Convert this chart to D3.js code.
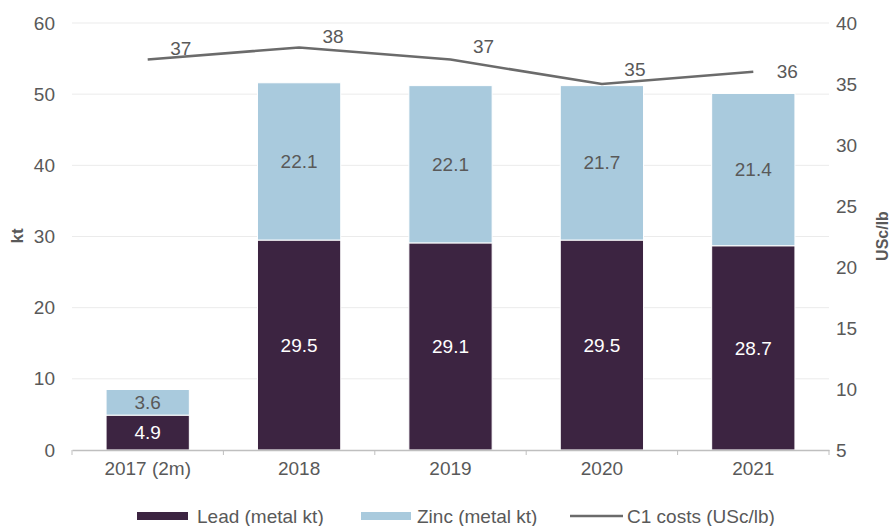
<!DOCTYPE html>
<html><head><meta charset="utf-8">
<script src="https://cdn.jsdelivr.net/npm/d3@7"></script>
<style>body{margin:0;background:#fff;}svg{display:block;font-family:"Liberation Sans",Arial,sans-serif;}</style>
</head><body>
<svg id="c" width="893" height="526"></svg>
<script>
const categories = ["2017 (2m)", "2018", "2019", "2020", "2021"];
const lead = [4.9, 29.5, 29.1, 29.5, 28.7];
const zinc = [3.6, 22.1, 22.1, 21.7, 21.4];
const c1 = [37, 38, 37, 35, 36];
const leftTicks = [0, 10, 20, 30, 40, 50, 60];
const rightTicks = [5, 10, 15, 20, 25, 30, 35, 40];

const FS = 19;
const svg = d3.select("#c");
const L = 72, R = 829, T = 23, B = 450;
const x = d3.scaleBand().domain(categories).range([L, R]).paddingInner(0.45).paddingOuter(0.225);
const y = d3.scaleLinear().domain([0, 60]).range([B, T]);
const y2 = d3.scaleLinear().domain([5, 40]).range([B, T]);
const txt = "#595959";
const FF = "Liberation Sans, Arial, sans-serif";

// gridlines
svg.append("g").selectAll("line").data(leftTicks.filter(d => d > 0)).join("line")
  .attr("x1", L).attr("x2", R).attr("y1", d => y(d)).attr("y2", d => y(d))
  .attr("stroke", "#ebebeb").attr("stroke-width", 1);

// left axis
const ga = svg.append("g").attr("transform", `translate(${L},0)`)
  .call(d3.axisLeft(y).tickValues(leftTicks).tickSize(0).tickPadding(17));
ga.select(".domain").remove();
ga.selectAll("text").attr("font-size", FS).attr("fill", txt).attr("font-family", FF);

// right axis
const gr = svg.append("g").attr("transform", `translate(${R},0)`)
  .call(d3.axisRight(y2).tickValues(rightTicks).tickSize(0).tickPadding(7));
gr.select(".domain").remove();
gr.selectAll("text").attr("font-size", FS).attr("fill", txt).attr("font-family", FF);

// bars
const step = x.step();
const bw = x.bandwidth();
const g = svg.append("g");
g.selectAll("rect.lead").data(categories).join("rect")
  .attr("x", d => x(d)).attr("width", bw)
  .attr("y", (d, i) => y(lead[i])).attr("height", (d, i) => y(0) - y(lead[i]))
  .attr("fill", "#3c2441").attr("stroke", "#fff").attr("stroke-width", 1);
g.selectAll("rect.zinc").data(categories).join("rect")
  .attr("x", d => x(d)).attr("width", bw)
  .attr("y", (d, i) => y(lead[i] + zinc[i])).attr("height", (d, i) => y(lead[i]) - y(lead[i] + zinc[i]))
  .attr("fill", "#a9cadd").attr("stroke", "#fff").attr("stroke-width", 1);

// x axis baseline + ticks
const gx = svg.append("g").attr("transform", `translate(0,${B})`)
  .call(d3.axisBottom(x).tickSize(0).tickPadding(12));
gx.select(".domain").attr("stroke", "#bfbfbf").attr("stroke-width", 1.5);
gx.selectAll("text").attr("font-size", FS).attr("fill", txt).attr("font-family", FF);
const bounds = d3.range(categories.length + 1).map(i => L + i * step);
svg.append("g").selectAll("line").data(bounds).join("line")
  .attr("x1", d => d).attr("x2", d => d).attr("y1", B).attr("y2", B + 5)
  .attr("stroke", "#bfbfbf").attr("stroke-width", 1);

// bar labels
g.selectAll("text.lv").data(categories).join("text")
  .attr("x", d => x(d) + bw / 2).attr("y", (d, i) => (y(0) + y(lead[i])) / 2)
  .attr("dy", "0.35em").attr("text-anchor", "middle").attr("font-size", FS).attr("fill", "#fff")
  .text((d, i) => lead[i].toFixed(1));
g.selectAll("text.zv").data(categories).join("text")
  .attr("x", d => x(d) + bw / 2).attr("y", (d, i) => (y(lead[i]) + y(lead[i] + zinc[i])) / 2)
  .attr("dy", "0.35em").attr("text-anchor", "middle").attr("font-size", FS).attr("fill", txt)
  .text((d, i) => zinc[i].toFixed(1));

// line
const cx = d => x(d) + bw / 2;
svg.append("path").datum(categories)
  .attr("d", d3.line().x(d => cx(d)).y((d, i) => y2(c1[i])))
  .attr("fill", "none").attr("stroke", "#6b6b6b").attr("stroke-width", 2.5);
const labOff = [[33, -11], [34, -11], [33, -13], [33, -15], [34, 0]];
svg.append("g").selectAll("text").data(categories).join("text")
  .attr("x", (d, i) => cx(d) + labOff[i][0]).attr("y", (d, i) => y2(c1[i]) + labOff[i][1])
  .attr("dy", "0.35em").attr("text-anchor", "middle").attr("font-size", FS).attr("fill", txt)
  .text((d, i) => c1[i]);

// axis titles
svg.append("text").attr("transform", "translate(23,236) rotate(-90)")
  .attr("text-anchor", "middle").attr("font-size", 17).attr("font-weight", "bold").attr("fill", txt).text("kt");
svg.append("text").attr("transform", "translate(888,236) rotate(-90)")
  .attr("text-anchor", "middle").attr("font-size", 16).attr("font-weight", "bold").attr("fill", txt).text("USc/lb");

// legend
const leg = svg.append("g");
leg.append("rect").attr("x", 137).attr("y", 512).attr("width", 51).attr("height", 8).attr("fill", "#3c2441");
leg.append("text").attr("x", 197).attr("y", 516).attr("dy", "0.35em").attr("font-size", FS).attr("fill", txt).text("Lead (metal kt)");
leg.append("rect").attr("x", 361).attr("y", 512).attr("width", 50).attr("height", 8).attr("fill", "#a9cadd");
leg.append("text").attr("x", 417).attr("y", 516).attr("dy", "0.35em").attr("font-size", FS).attr("fill", txt).text("Zinc (metal kt)");
leg.append("line").attr("x1", 570).attr("x2", 623).attr("y1", 516).attr("y2", 516).attr("stroke", "#6b6b6b").attr("stroke-width", 2.5);
leg.append("text").attr("x", 627).attr("y", 516).attr("dy", "0.35em").attr("font-size", FS).attr("fill", txt).text("C1 costs (USc/lb)");
</script>
</body></html>
